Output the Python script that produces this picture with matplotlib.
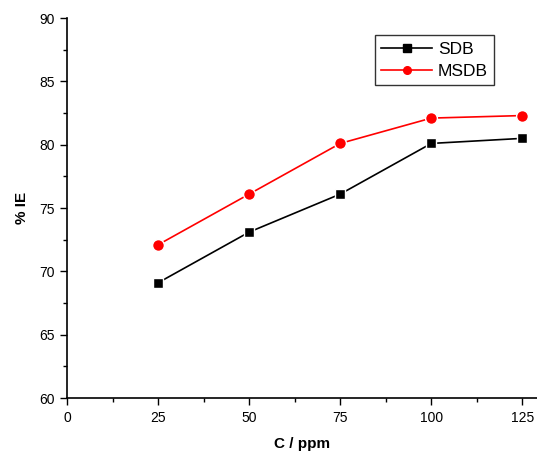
import matplotlib
matplotlib.use("Agg")
import matplotlib.pyplot as plt
from matplotlib.ticker import MultipleLocator

conc = [25, 50, 75, 100, 125]
ie_sdb = [69.1, 73.1, 76.1, 80.1, 80.5]
ie_msdb = [72.1, 76.1, 80.1, 82.1, 82.3]

plt.rcParams['font.family'] = ['Liberation Sans', 'DejaVu Sans']

fig = plt.figure(figsize=(5.37, 4.54), dpi=100)
ax = fig.add_axes([0.1248, 0.1233, 0.8752, 0.8370])

ax.plot(conc, ie_sdb, color='black', lw=1.2, marker='s', ms=7.5,
        mec='white', mew=1.0, label='SDB')
ax.plot(conc, ie_msdb, color='red', lw=1.2, marker='o', ms=8.5,
        mec='white', mew=1.0, label='MSDB')

ax.set_xlim(0, 129)
ax.set_ylim(60, 90)
ax.xaxis.set_major_locator(MultipleLocator(25))
ax.xaxis.set_minor_locator(MultipleLocator(12.5))
ax.yaxis.set_major_locator(MultipleLocator(5))
ax.yaxis.set_minor_locator(MultipleLocator(2.5))

for s in ['top', 'right']:
    ax.spines[s].set_visible(False)
for s in ['left', 'bottom']:
    ax.spines[s].set_linewidth(1.2)

ax.tick_params(which='major', direction='out', length=5, width=1.0, labelsize=10)
ax.tick_params(which='minor', direction='out', length=3, width=1.0)
ax.tick_params(axis='x', pad=4)

ax.set_xlabel('C / ppm', fontsize=11, fontweight='bold', labelpad=9)
ax.set_ylabel('% IE', fontsize=11, fontweight='bold', labelpad=8)

leg = ax.legend(loc='upper left', bbox_to_anchor=(0.655, 0.955), fontsize=12.5,
                frameon=True, fancybox=False, edgecolor='black',
                handlelength=2.9, borderpad=0.38, labelspacing=0.38,
                handletextpad=0.35, borderaxespad=0)
leg.get_frame().set_linewidth(1.0)
for h in leg.legend_handles:
    h.set_markeredgecolor(h.get_color())
    h.set_markersize(5.5)

fig.savefig('out.png', dpi=100)
